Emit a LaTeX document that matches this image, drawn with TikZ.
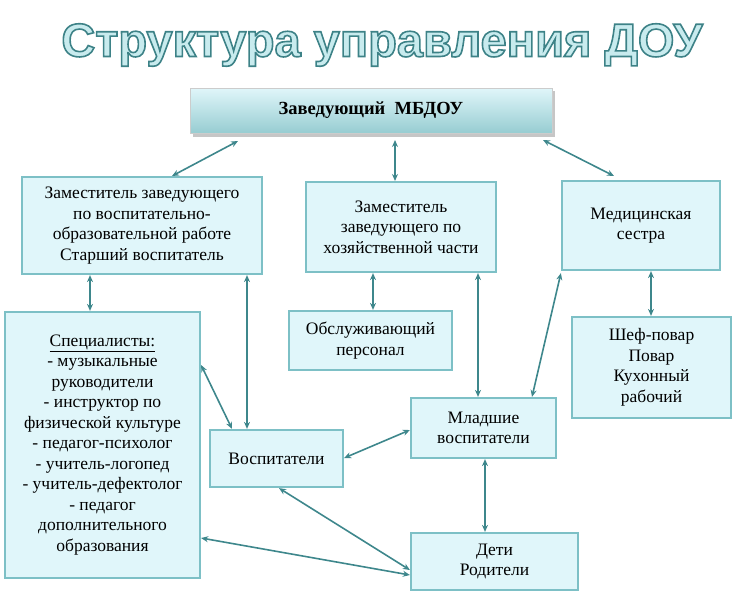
\documentclass[tikz,border=0pt]{standalone}
\usepackage{fontspec}
\setmainfont{Liberation Serif}
\newfontfamily\titlefont{Liberation Sans}
\usetikzlibrary{arrows.meta}
\definecolor{bord}{RGB}{125,192,198}
\definecolor{boxfill}{RGB}{224,246,250}
\definecolor{arr}{RGB}{62,135,140}
\definecolor{ttlfill}{RGB}{200,235,238}
\tikzset{
  bx/.style={draw=bord,line width=2.2pt,fill=boxfill,align=center,font=\fontsize{17.5}{20.5}\selectfont,inner sep=0pt},
  lk/.style={draw=arr,line width=1.6pt,{Stealth[length=7pt,width=6pt]}-{Stealth[length=7pt,width=6pt]}},
}
\newcommand{\bxat}[6]{\node[bx,minimum width=#4-#2,minimum height=#5-#3] (#1) at ({(#2+#4)/2},{(#3+#5)/2}) {#6};}
\begin{document}
\begin{tikzpicture}[x=1pt,y=-1pt]
\useasboundingbox (0,0) rectangle (736,597);
% title
\node[text=ttlfill,font=\titlefont\bfseries\fontsize{47}{50}\selectfont] (title) at (382,45) {\special{pdf:code q 2 Tr 1.6 w 0.24 0.51 0.53 RG}Структура управления ДОУ\special{pdf:code Q}};
% top box
\fill[gray!45] (193,91) rectangle (555,137);
\node[draw=gray!40,line width=0.8pt,top color=boxfill,bottom color=bord!80,minimum width=362,minimum height=45,font=\bfseries\fontsize{18.5}{21}\selectfont,inner sep=0pt] (top) at (371,110.5) {Заведующий\ \ МБДОУ};
\bxat{z1}{22}{177}{262}{274}{Заместитель заведующего\\по воспитательно-\\образовательной работе\\Старший воспитатель}
\bxat{z2}{306}{182}{496}{272}{Заместитель\\заведующего по\\хозяйственной части}
\bxat{med}{562}{181}{720}{270}{Медицинская\\сестра}
\bxat{spec}{5}{312}{200}{578}{\underline{Специалисты:}\\- музыкальные\\руководители\\- инструктор по\\физической культуре\\- педагог-психолог\\- учитель-логопед\\- учитель-дефектолог\\- педагог\\дополнительного\\образования}
\bxat{obsl}{289}{311}{452}{370}{Обслуживающий\\персонал}
\bxat{shef}{572}{317}{731}{418}{Шеф-повар\\Повар\\Кухонный\\рабочий}
\bxat{mlad}{411}{398}{556}{458}{Младшие\\воспитатели}
\bxat{vosp}{210}{430}{343}{487}{Воспитатели}
\bxat{deti}{411}{533}{578}{590}{Дети\\Родители}
% links
\coordinate (a1) at (238,141); \coordinate (b1) at (172,176);
\coordinate (a2) at (395,140); \coordinate (b2) at (395,181);
\coordinate (a3) at (543,140); \coordinate (b3) at (614,176);
\draw[lk] (a1) -- (b1);
\draw[lk] (a2) -- (b2);
\draw[lk] (a3) -- (b3);
\draw[lk] (z1.south -| 90,0) -- (spec.north -| 90,0);
\draw[lk] (z1.south -| 247,0) -- (vosp.north -| 247,0);
\draw[lk] (spec.east |- 0,365) -- (vosp.north -| 232,0);
\draw[lk] (z2.south -| 373,0) -- (obsl.north -| 373,0);
\draw[lk] (z2.south -| 478,0) -- (mlad.north -| 478,0);
\draw[lk] (med.south west) ++(0,2) -- (mlad.north -| 532,0);
\draw[lk] (med.south -| 651,0) -- (shef.north -| 651,0);
\draw[lk] (vosp.east |- 0,458) -- (mlad.west |- 0,430);
\draw[lk] (vosp.south -| 279,0) -- (deti.west |- 0,570);
\draw[lk] (spec.east |- 0,538) -- (deti.west |- 0,575);
\draw[lk] (mlad.south -| 485,0) -- (deti.north -| 485,0);
\end{tikzpicture}
\end{document}
